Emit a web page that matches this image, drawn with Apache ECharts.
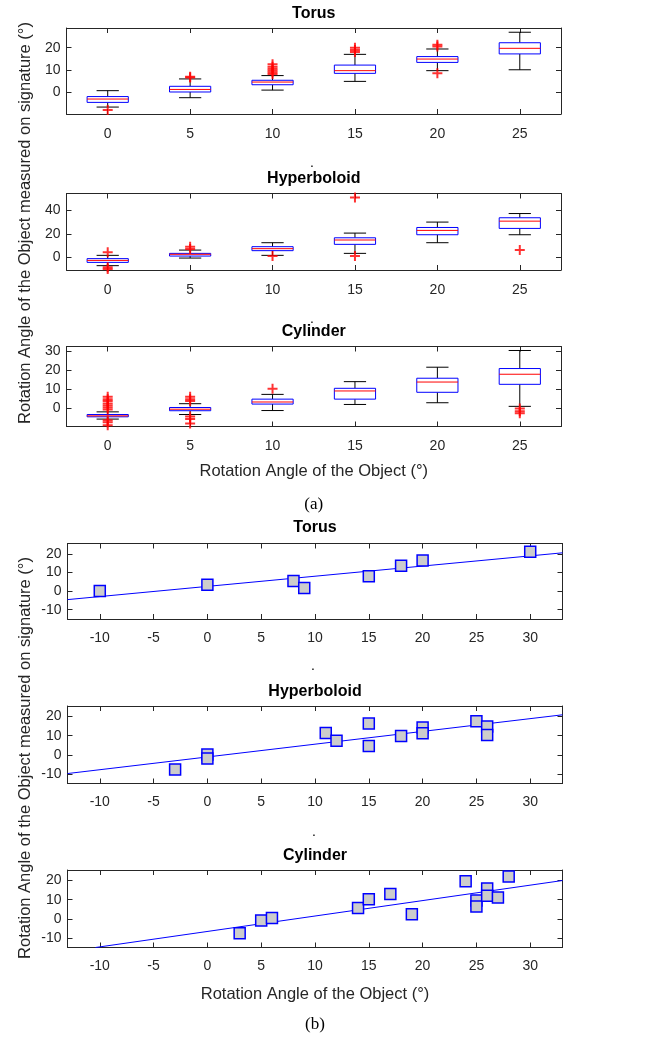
<!DOCTYPE html>
<html><head><meta charset="utf-8">
<script src="https://cdn.jsdelivr.net/npm/echarts@6/dist/echarts.min.js"></script>
<style>html,body{margin:0;padding:0;background:#fff}#c{width:646px;height:1039px}</style>
</head><body><div id="c"></div>
<script>
// ---------- DATA ----------
const xCatsA = ['0', '5', '10', '15', '20', '25'];
const shapeNames = ['Torus', 'Hyperboloid', 'Cylinder'];
// box rows: [lower whisker, q1, median, q3, upper whisker]
const torusBoxA = [[-6.6, -4.5, -3.0, -1.9, 0.75], [-2.4, 0.15, 1.3, 2.7, 6.0], [1.0, 3.4, 4.6, 5.4, 7.5], [4.9, 8.5, 9.7, 12.2, 17.0], [9.7, 13.4, 14.9, 16.0, 19.4], [10.1, 17.2, 19.7, 22.2, 26.9]];
const torusOutA = [[0, -7.9], [1, 6.6], [1, 7.0], [2, 8.2], [2, 9.0], [2, 9.8], [2, 10.6], [2, 11.5], [2, 12.6], [3, 18.0], [3, 19.0], [3, 20.0], [4, 20.5], [4, 21.3], [4, 8.5]];
const hypBoxA = [[-7.1, -4.3, -2.6, -1.1, 1.7], [-0.6, 1.1, 2.6, 3.4, 6.2], [1.7, 5.7, 7.4, 9.1, 12.5], [3.4, 11.1, 14.8, 16.7, 20.7], [12.5, 19.3, 23.0, 25.5, 30.1], [19.3, 24.7, 30.9, 33.8, 37.4]];
const hypOutA = [[0, 4.3], [0, -8.5], [0, -10.0], [1, 7.1], [1, 9.0], [2, 1.1], [3, 51.0], [3, 1.1], [5, 6.2]];
const cylBoxA = [[-5.6, -4.4, -3.9, -3.2, -1.8], [-3.2, -1.2, -0.4, 0.5, 2.5], [-1.1, 2.3, 3.4, 4.9, 7.4], [2.1, 4.9, 9.2, 10.6, 14.1], [3.0, 8.5, 13.9, 15.9, 21.7], [1.1, 12.7, 18.0, 21.0, 30.5]];
const cylOutA = [[0, 6.2], [0, 4.9], [0, 3.9], [0, 2.6], [0, 1.6], [0, 0.5], [0, -0.5], [0, -6.2], [0, -7.2], [0, -8.8], [1, 6.2], [1, 4.9], [1, 3.9], [1, -4.2], [1, -5.5], [1, -7.9], [2, 10.4], [5, 0.0], [5, -1.5], [5, -2.5]];
const yRangeA = [[-9.7, 28.8], [-10.8, 54.5], [-9.5, 32.6]];
const yTicksA = [[0, 10, 20], [0, 20, 40], [0, 10, 20, 30]];

const torusPtsB = [[-10, 0.0], [0, 3.4], [8, 5.4], [9, 1.6], [15, 7.9], [18, 13.6], [20, 16.4], [30, 21.1]];
const hypPtsB = [[-3, -7.7], [0, 0.1], [0, -2.0], [11, 11.4], [12, 7.4], [15, 16.3], [15, 4.6], [18, 9.8], [20, 14.3], [20, 11.3], [25, 17.5], [26, 14.8], [26, 10.4]];
const cylPtsB = [[3, -7.5], [5, -0.9], [6, 0.4], [14, 5.7], [15, 10.2], [17, 13.0], [19, 2.4], [24, 19.6], [25, 9.5], [25, 6.4], [26, 15.8], [26, 12.0], [27, 11.1], [28, 22.1]];
const torusFitB = [[-13, -4.6], [33, 20.5]];
const hypFitB = [[-13, -9.8], [33, 20.9]];
const cylFitB = [[-10.4, -15], [33, 20.0]];
const xRangeB = [-13, 33];
const yRangeB = [-15, 25.5];
const xTicksB = [-10, -5, 0, 5, 10, 15, 20, 25, 30];
const yTicksB = [-10, 0, 10, 20];

const xLabelText = 'Rotation Angle of the Object (°)';
const yLabelText = 'Rotation Angle of the Object measured on signature (°)';

// ---------- LAYOUT ----------
const FONT = "'Liberation Sans', Arial, Helvetica, sans-serif";
const AX = '#262626';
const gridA = [{ top: 28, height: 86 }, { top: 193.5, height: 76.5 }, { top: 346.5, height: 80 }];
const gridB = [{ top: 543.5, height: 75.5 }, { top: 706, height: 77.5 }, { top: 870, height: 77.5 }];
const LA = 66.5, WA = 494.5, LB = 67.5, WB = 495;
const boxesA = [torusBoxA, hypBoxA, cylBoxA];
const outsA = [torusOutA, hypOutA, cylOutA];
const ptsB = [torusPtsB, hypPtsB, cylPtsB];
const fitsB = [torusFitB, hypFitB, cylFitB];

const grid = [], xAxis = [], yAxis = [], series = [];
const axLine = { show: true, onZero: false, lineStyle: { color: AX, width: 1 } };
const lblStyle = { color: AX, fontSize: 14, fontFamily: FONT };
const PLUS = 'path://M4,0H6V10H4ZM0,4H10V6H0Z';

function yPair(gi, min, max, ticks) {
  yAxis.push({ gridIndex: gi, type: 'value', position: 'left', min: min, max: max, axisLine: axLine, splitLine: { show: false },
    axisTick: { show: true, inside: true, length: 5, lineStyle: { color: AX }, customValues: ticks },
    axisLabel: Object.assign({ margin: 6, customValues: ticks }, lblStyle) });
  yAxis.push({ gridIndex: gi, type: 'value', position: 'right', min: min, max: max, axisLine: axLine, splitLine: { show: false },
    axisTick: { show: true, inside: true, length: 5, lineStyle: { color: AX }, customValues: ticks },
    axisLabel: { show: false } });
}

function renderBox(params, api) {
  const x = api.value(0);
  const lo = api.coord([x, api.value(1)]);
  const q1 = api.coord([x, api.value(2)]);
  const md = api.coord([x, api.value(3)]);
  const q3 = api.coord([x, api.value(4)]);
  const hi = api.coord([x, api.value(5)]);
  const band = api.size([1, 0])[0];
  const bw = band * 0.5, cw = band * 0.27, cx = lo[0];
  const blk = { stroke: '#000', lineWidth: 1 };
  return { type: 'group', children: [
    { type: 'line', shape: { x1: cx, y1: hi[1], x2: cx, y2: q3[1] }, style: blk },
    { type: 'line', shape: { x1: cx, y1: q1[1], x2: cx, y2: lo[1] }, style: blk },
    { type: 'line', shape: { x1: cx - cw / 2, y1: hi[1], x2: cx + cw / 2, y2: hi[1] }, style: blk },
    { type: 'line', shape: { x1: cx - cw / 2, y1: lo[1], x2: cx + cw / 2, y2: lo[1] }, style: blk },
    { type: 'rect', shape: { x: cx - bw / 2, y: q3[1], width: bw, height: q1[1] - q3[1] }, style: { fill: '#fff', stroke: '#0000ff', lineWidth: 1 } },
    { type: 'line', shape: { x1: cx - bw / 2, y1: md[1], x2: cx + bw / 2, y2: md[1] }, style: { stroke: '#ff0000', lineWidth: 1 } }
  ] };
}

for (let k = 0; k < 3; k++) {
  const gi = k;
  grid.push({ left: LA, width: WA, top: gridA[k].top, height: gridA[k].height, outerBoundsMode: 'none' });
  xAxis.push({ gridIndex: gi, type: 'category', data: xCatsA, position: 'bottom', boundaryGap: true, axisLine: axLine,
    axisTick: { show: true, inside: true, alignWithLabel: true, length: 5, lineStyle: { color: AX } },
    axisLabel: Object.assign({ margin: 13, interval: 0 }, lblStyle), splitLine: { show: false } });
  xAxis.push({ gridIndex: gi, type: 'category', data: xCatsA, position: 'top', boundaryGap: true, axisLine: axLine,
    axisTick: { show: true, inside: true, alignWithLabel: true, length: 5, lineStyle: { color: AX } },
    axisLabel: { show: false }, splitLine: { show: false } });
  yPair(gi, yRangeA[k][0], yRangeA[k][1], yTicksA[k]);
  series.push({ type: 'custom', xAxisIndex: 2 * gi, yAxisIndex: 2 * gi, renderItem: renderBox,
    encode: { x: 0, y: [1, 2, 3, 4, 5] }, data: boxesA[k].map((b, i) => [i].concat(b)), z: 2 });
  series.push({ type: 'scatter', xAxisIndex: 2 * gi, yAxisIndex: 2 * gi, data: outsA[k], symbol: PLUS, symbolSize: 10,
    itemStyle: { color: '#ff0000' }, z: 3 });
}
for (let k = 0; k < 3; k++) {
  const gi = 3 + k;
  grid.push({ left: LB, width: WB, top: gridB[k].top, height: gridB[k].height, outerBoundsMode: 'none' });
  const xb = { gridIndex: gi, type: 'value', min: xRangeB[0], max: xRangeB[1], axisLine: axLine, splitLine: { show: false } };
  xAxis.push(Object.assign({}, xb, { position: 'bottom',
    axisTick: { show: true, inside: true, length: 5, lineStyle: { color: AX }, customValues: xTicksB },
    axisLabel: Object.assign({ margin: 12, customValues: xTicksB }, lblStyle) }));
  xAxis.push(Object.assign({}, xb, { position: 'top',
    axisTick: { show: true, inside: true, length: 5, lineStyle: { color: AX }, customValues: xTicksB },
    axisLabel: { show: false } }));
  yPair(gi, yRangeB[0], yRangeB[1], yTicksB);
  series.push({ type: 'line', xAxisIndex: 2 * gi, yAxisIndex: 2 * gi, data: fitsB[k], symbol: 'none',
    lineStyle: { color: '#0000ff', width: 1 }, z: 2, clip: true });
  series.push({ type: 'scatter', xAxisIndex: 2 * gi, yAxisIndex: 2 * gi, data: ptsB[k], symbol: 'rect', symbolSize: 11,
    itemStyle: { color: '#cccccc', borderColor: '#0000ff', borderWidth: 1.5, opacity: 1 }, z: 3 });
}

// ---------- TEXT ----------
const graphic = [];
const cxA = LA + WA / 2, cxB = LB + WB / 2;
const titleY = [13.5, 178.5, 332, 528, 692, 856];
titleY.forEach((y, i) => {
  graphic.push({ type: 'text', x: i < 3 ? cxA : cxB, y: y, style: { text: shapeNames[i % 3], fill: '#000', font: 'bold 16px ' + FONT, align: 'center', verticalAlign: 'middle' } });
});
[[312, 163], [312, 319], [313, 666], [314, 832]].forEach(p => {
  graphic.push({ type: 'text', x: p[0], y: p[1], style: { text: '.', fill: '#000', font: '14px ' + FONT, align: 'center', verticalAlign: 'middle' } });
});
graphic.push({ type: 'text', x: cxA, y: 471.5, style: { text: xLabelText, fill: AX, font: '16.5px ' + FONT, align: 'center', verticalAlign: 'middle' } });
graphic.push({ type: 'text', x: cxB, y: 994, style: { text: xLabelText, fill: AX, font: '16.5px ' + FONT, align: 'center', verticalAlign: 'middle' } });
graphic.push({ type: 'text', x: 25, y: 223, rotation: Math.PI / 2, style: { text: yLabelText, fill: AX, font: '16.5px ' + FONT, align: 'center', verticalAlign: 'middle' } });
graphic.push({ type: 'text', x: 25, y: 758, rotation: Math.PI / 2, style: { text: yLabelText, fill: AX, font: '16.5px ' + FONT, align: 'center', verticalAlign: 'middle' } });
graphic.push({ type: 'text', x: cxA, y: 505, style: { text: '(a)', fill: '#000', font: '17px "Liberation Serif", "Times New Roman", serif', align: 'center', verticalAlign: 'middle' } });
graphic.push({ type: 'text', x: cxB, y: 1025, style: { text: '(b)', fill: '#000', font: '17px "Liberation Serif", "Times New Roman", serif', align: 'center', verticalAlign: 'middle' } });

const chart = echarts.init(document.getElementById('c'), null, { renderer: 'canvas' });
chart.setOption({ animation: false, backgroundColor: '#ffffff', grid, xAxis, yAxis, series, graphic });
</script></body></html>
